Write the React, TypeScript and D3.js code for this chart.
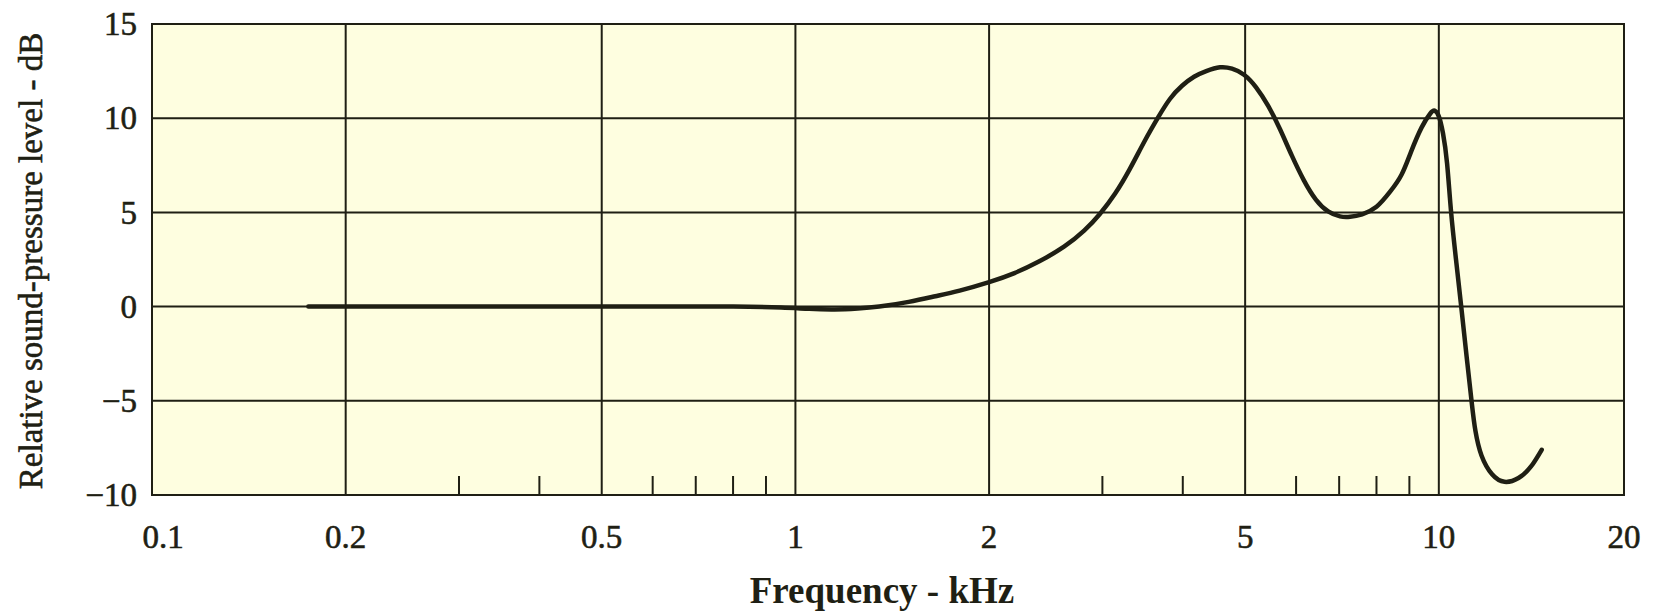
import React from "react";
import * as d3 from "d3";

const freqKHz = [
  0.175, 0.25, 0.4, 0.6, 0.8, 0.95, 1.05, 1.15, 1.25, 1.35, 1.5, 1.65, 1.8, 2.0,
  2.19, 2.39, 2.615, 2.81, 2.975, 3.14, 3.31, 3.49, 3.66, 3.82, 3.99, 4.165, 4.35,
  4.57, 4.77, 4.98, 5.2, 5.43, 5.665, 5.91, 6.17, 6.44, 6.73, 7.02, 7.28, 7.6, 8.0,
  8.4, 8.75, 9.05, 9.4, 9.7, 9.85, 10.0, 10.15, 10.3, 10.45, 10.65, 10.85, 11.05,
  11.25, 11.4, 11.65, 12.1, 12.65, 13.3, 13.9, 14.45,
];
const levelDB = [
  0, 0, 0, 0, 0, -0.05, -0.12, -0.15, -0.1, 0, 0.25, 0.55, 0.85, 1.3,
  1.78, 2.39, 3.18, 4.03, 4.93, 6.0, 7.31, 8.79, 10.03, 11.02, 11.72, 12.2, 12.5,
  12.7, 12.63, 12.31, 11.64, 10.65, 9.41, 8.01, 6.7, 5.68, 5.05, 4.79, 4.77, 4.9, 5.3,
  6.1, 7.0, 8.2, 9.5, 10.25, 10.4, 10.1, 9.2, 7.6, 5.0, 2.3, -0.2, -2.7,
  -5.1, -6.6, -7.9, -8.9, -9.3, -9.1, -8.5, -7.6,
];

const yTickValues = [15, 10, 5, 0, -5, -10];
const yTickLabels = ["15", "10", "5", "0", "\u22125", "\u221210"];
const xGridValues = [0.2, 0.5, 1, 2, 5, 10];
const xLabelValues = [0.1, 0.2, 0.5, 1, 2, 5, 10, 20];
const xLabelTexts = ["0.1", "0.2", "0.5", "1", "2", "5", "10", "20"];
const xMinorValues = [0.3, 0.4, 0.6, 0.7, 0.8, 0.9, 3, 4, 6, 7, 8, 9];

const W = 1653;
const H = 611;
const left = 152;
const right = 1624;
const top = 24;
const bottom = 495;
const ink = "#1f1f14";
const fill = "#fefee0";
const font = "'Liberation Serif', 'Times New Roman', serif";

export default function App() {
  const x = d3.scaleLog().domain([0.1, 19.4]).range([left, right]);
  const y = d3.scaleLinear().domain([-10, 15]).range([bottom, top]);
  const pts: [number, number][] = freqKHz.map((f, i) => [f, levelDB[i]]);
  const line = d3
    .line<[number, number]>()
    .x((d) => x(d[0]))
    .y((d) => y(d[1]))
    .curve(d3.curveNatural);

  return (
    <svg
      width={W}
      height={H}
      style={{ position: "absolute", left: 0, top: 0, background: "#ffffff" }}
      fontFamily={font}
    >
      <rect x={left} y={top} width={right - left} height={bottom - top} fill={fill} />
      {yTickValues.map((v) => (
        <line key={"hy" + v} x1={left} x2={right} y1={y(v)} y2={y(v)} stroke={ink} strokeWidth={2} />
      ))}
      {xGridValues.map((v) => (
        <line key={"gx" + v} x1={x(v)} x2={x(v)} y1={top} y2={bottom} stroke={ink} strokeWidth={2} />
      ))}
      {xMinorValues.map((v) => (
        <line key={"mx" + v} x1={x(v)} x2={x(v)} y1={bottom - 19} y2={bottom} stroke={ink} strokeWidth={2} />
      ))}
      <rect
        x={left}
        y={top}
        width={right - left}
        height={bottom - top}
        fill="none"
        stroke={ink}
        strokeWidth={2}
      />
      <path d={line(pts) || ""} fill="none" stroke={ink} strokeWidth={4.5} strokeLinecap="round" strokeLinejoin="round" />
      <g fill={ink} stroke={ink} strokeWidth={0.6}>
        {yTickValues.map((v, i) => (
          <text key={"ty" + v} x={137} y={y(v)} dy="0.34em" textAnchor="end" fontSize={33}>
            {yTickLabels[i]}
          </text>
        ))}
        {xLabelValues.map((v, i) => (
          <text
            key={"tx" + v}
            x={Math.min(Math.max(x(v), left + 11), right)}
            y={548}
            textAnchor="middle"
            fontSize={33}
          >
            {xLabelTexts[i]}
          </text>
        ))}
        <text
          transform={`translate(31, 261) rotate(-90)`}
          textAnchor="middle"
          dy="0.34em"
          fontSize={33}
        >
          Relative sound-pressure level - dB
        </text>
      </g>
      <text x={882} y={603} textAnchor="middle" fontSize={37} fontWeight="bold" fill={ink}>
        Frequency - kHz
      </text>
    </svg>
  );
}
